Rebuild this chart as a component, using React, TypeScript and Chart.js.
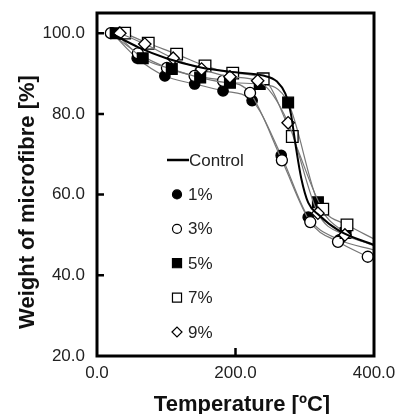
import React, { useEffect, useRef } from 'react';
import { Chart, registerables } from 'chart.js';

Chart.register(...registerables);

// ---- data ----
const xTickValues = [0, 200, 400];
const yTickValues = [20, 40, 60, 80, 100];

const controlTemp = [20, 60, 100, 150, 200, 240, 260, 272, 280, 287, 295, 305, 320, 350, 400];
const controlWeight = [100, 96.5, 93.8, 91.5, 90.3, 89.5, 88, 85, 80, 72, 64, 58, 55, 51, 47.5];

const temp1 = [22, 58, 98, 141, 182, 224, 266, 305, 350, 400];
const weight1 = [100, 93.8, 89.4, 87.4, 85.7, 83.3, 69.7, 54.4, 48.8, 46.3];

const temp3 = [20, 59, 101, 141, 182, 221, 267, 308, 348, 391];
const weight3 = [100, 95, 91.4, 89.4, 88.2, 85.2, 68.5, 53.2, 48.3, 44.6];

const temp5 = [27, 66, 108, 149, 192, 235, 276, 319, 359, 400];
const weight5 = [100, 93.8, 91.1, 89, 87.7, 87.4, 82.8, 58.1, 50.5, 47.3];

const temp7 = [40, 74, 115, 156, 196, 240, 282, 326, 361, 400];
const weight7 = [100, 97.5, 94.8, 91.9, 90.1, 88.7, 74.4, 56.4, 52.5, 49];

const temp9 = [33, 69, 110, 151, 192, 232, 276, 319, 358, 400];
const weight9 = [100, 97.3, 93.8, 91.1, 89.2, 88.2, 77.8, 55.4, 50, 47.6];

const legendLabels = ['Control', '1%', '3%', '5%', '7%', '9%'];
const xTitle = 'Temperature [ºC]';
const yTitle = 'Weight of microfibre [%]';

const FONT = '"Liberation Sans", Arial, Helvetica, sans-serif';

type Marker = { style: string; filled: boolean; radius: number; legendRadius: number };

const markers: Marker[] = [
  { style: 'circle', filled: true, radius: 5.2, legendRadius: 4.5 },
  { style: 'circle', filled: false, radius: 5.5, legendRadius: 4.5 },
  { style: 'rect', filled: true, radius: 7.6, legendRadius: 6.4 },
  { style: 'rect', filled: false, radius: 8.2, legendRadius: 6.4 },
  { style: 'rectRot', filled: false, radius: 6.2, legendRadius: 5 },
];

const pairs = (xs: number[], ys: number[]) => xs.map((x, i) => ({ x, y: ys[i] }));

const seriesData = [
  pairs(temp1, weight1),
  pairs(temp3, weight3),
  pairs(temp5, weight5),
  pairs(temp7, weight7),
  pairs(temp9, weight9),
];

const framePlugin = {
  id: 'frameAndText',
  afterDatasetsDraw(chart: any) {
    const { ctx, chartArea: a, scales } = chart;
    ctx.save();
    // inward tick marks
    ctx.strokeStyle = '#000';
    ctx.lineWidth = 2.5;
    ctx.beginPath();
    yTickValues.forEach((v) => {
      if (v === 20) return;
      const py = scales.y.getPixelForValue(v);
      ctx.moveTo(a.left, py);
      ctx.lineTo(a.left + 7, py);
    });
    xTickValues.forEach((v) => {
      if (v === 0 || v === 400) return;
      const px = scales.x.getPixelForValue(v);
      ctx.moveTo(px, a.bottom);
      ctx.lineTo(px, a.bottom - 8);
    });
    ctx.stroke();
    // frame
    ctx.lineWidth = 3;
    ctx.strokeRect(a.left, a.top, a.right - a.left, a.bottom - a.top);

    // legend
    const lx = 177;
    const ly0 = 160;
    const step = 34.4;
    ctx.font = `17px ${FONT}`;
    ctx.fillStyle = '#222';
    ctx.textBaseline = 'middle';
    ctx.textAlign = 'left';
    legendLabels.forEach((label, i) => {
      const y = ly0 + i * step;
      if (i === 0) {
        ctx.strokeStyle = '#000';
        ctx.lineWidth = 2.5;
        ctx.beginPath();
        ctx.moveTo(167, y);
        ctx.lineTo(189, y);
        ctx.stroke();
        ctx.fillStyle = '#222';
        ctx.fillText(label, 189, y + 1);
        return;
      }
      const m = markers[i - 1];
      ctx.lineWidth = 1.2;
      ctx.strokeStyle = '#000';
      ctx.fillStyle = m.filled ? '#000' : '#fff';
      ctx.beginPath();
      const r = m.legendRadius;
      if (m.style === 'circle') {
        ctx.arc(lx, y, r, 0, Math.PI * 2);
      } else if (m.style === 'rect') {
        const s = r * Math.SQRT1_2;
        ctx.rect(lx - s, y - s, 2 * s, 2 * s);
      } else {
        ctx.moveTo(lx - r, y);
        ctx.lineTo(lx, y - r);
        ctx.lineTo(lx + r, y);
        ctx.lineTo(lx, y + r);
        ctx.closePath();
      }
      ctx.fill();
      ctx.stroke();
      ctx.fillStyle = '#222';
      ctx.fillText(label, 188, y + 1);
    });

    // axis titles
    ctx.fillStyle = '#111';
    ctx.font = `bold 22px ${FONT}`;
    ctx.textAlign = 'center';
    ctx.textBaseline = 'alphabetic';
    ctx.fillText(xTitle, 242, 411);
    ctx.translate(34, 202);
    ctx.rotate(-Math.PI / 2);
    ctx.fillText(yTitle, 0, 0);
    ctx.restore();
  },
};

export default function App() {
  const ref = useRef<HTMLCanvasElement | null>(null);

  useEffect(() => {
    document.body.style.margin = '0';
    const canvas = ref.current;
    if (!canvas) return;

    const datasets: any[] = [
      {
        label: legendLabels[0],
        data: pairs(controlTemp, controlWeight),
        borderColor: '#000',
        borderWidth: 2,
        pointRadius: 0,
        cubicInterpolationMode: 'monotone',
        order: 0,
      },
      ...seriesData.map((d, i) => ({
        label: legendLabels[i + 1],
        data: d,
        borderColor: '#777',
        borderWidth: 1.2,
        pointStyle: markers[i].style,
        pointRadius: (c: any) => (c.raw && c.raw.x === 400 ? 0 : markers[i].radius),
        pointBackgroundColor: markers[i].filled ? '#000' : '#fff',
        pointBorderColor: '#000',
        pointBorderWidth: 1.3,
        cubicInterpolationMode: 'monotone',
        order: 5 - i,
      })),
    ];

    const chart = new Chart(canvas, {
      type: 'line',
      data: { datasets },
      options: {
        responsive: false,
        animation: false,
        events: [],
        layout: { padding: { top: 13, right: 21, left: 0, bottom: 0 } },
        plugins: { legend: { display: false }, tooltip: { enabled: false } },
        scales: {
          x: {
            type: 'linear',
            min: 0,
            max: 400,
            afterBuildTicks: (s: any) => {
              s.ticks = xTickValues.map((v) => ({ value: v }));
            },
            afterFit: (s: any) => {
              s.height = 58;
              s.paddingLeft = 0;
              s.paddingRight = 0;
              s.paddingTop = 0;
              s.paddingBottom = 0;
            },
            grid: { display: false, drawTicks: false },
            border: { display: false },
            ticks: {
              autoSkip: false,
              maxRotation: 0,
              padding: 7,
              color: '#222',
              font: { size: 17, family: FONT },
              callback: (v: any) => Number(v).toFixed(1),
            },
          },
          y: {
            type: 'linear',
            min: 20,
            max: 105,
            afterBuildTicks: (s: any) => {
              s.ticks = yTickValues.map((v) => ({ value: v }));
            },
            afterFit: (s: any) => {
              s.width = 97;
              s.paddingLeft = 0;
              s.paddingRight = 0;
              s.paddingTop = 0;
              s.paddingBottom = 0;
            },
            grid: { display: false, drawTicks: false },
            border: { display: false },
            ticks: {
              padding: 12,
              color: '#222',
              font: { size: 17, family: FONT },
              callback: (v: any) => Number(v).toFixed(1),
            },
          },
        },
      },
      plugins: [framePlugin],
    });
    return () => chart.destroy();
  }, []);

  return (
    <div style={{ width: 395, height: 414, background: '#fff' }}>
      <canvas ref={ref} width={395} height={414} style={{ display: 'block' }} />
    </div>
  );
}
